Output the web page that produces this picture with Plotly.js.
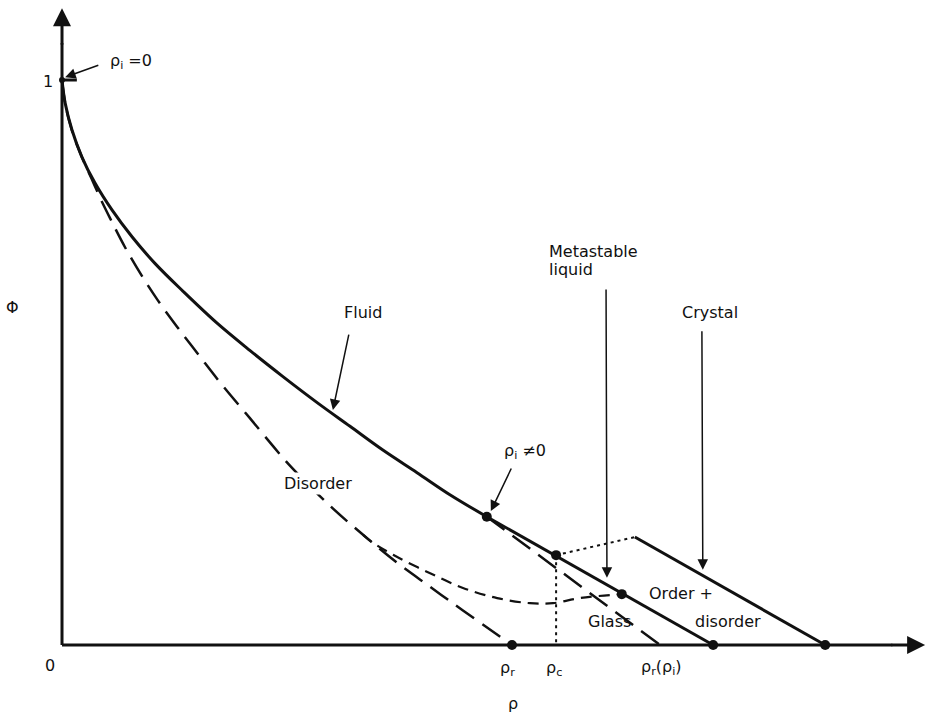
<!DOCTYPE html>
<html><head><meta charset="utf-8">
<script src="https://cdn.plot.ly/plotly-3.0.1.min.js"></script>
<style>html,body{margin:0;padding:0;background:#fff}#chart{width:926px;height:713px}</style>
</head><body><div id="chart"></div>
<script>
// Fluid branch (curved part, then linear continuation after rho_i != 0)
const fluidX = [0, 0.007, 0.022, 0.044, 0.073, 0.111, 0.156, 0.207, 0.269, 0.344, 0.418, 0.491, 0.567, 0.640, 0.713, 0.789, 0.862, 0.944];
const fluidY = [1.000, 0.959, 0.912, 0.864, 0.818, 0.770, 0.722, 0.675, 0.626, 0.570, 0.521, 0.475, 0.429, 0.387, 0.345, 0.305, 0.266, 0.227];
const fluidLineX = [0.944, 1.447];
const fluidLineY = [0.227, 0];
// Disorder (long dashed)
const disorderX = [0, 0.007, 0.022, 0.044, 0.067, 0.089, 0.107, 0.140, 0.180, 0.213, 0.256, 0.307, 0.358, 0.418, 0.469, 0.507, 0.596, 0.669, 0.744, 0.818, 0.891, 1.000];
const disorderY = [1.000, 0.959, 0.911, 0.864, 0.823, 0.784, 0.755, 0.704, 0.650, 0.610, 0.563, 0.510, 0.458, 0.401, 0.352, 0.317, 0.246, 0.195, 0.146, 0.103, 0.061, 0];
// Short dashed branch (order + disorder)
const mixedX = [0.669, 0.691, 0.744, 0.818, 0.891, 0.967, 1.040, 1.091, 1.151, 1.244];
const mixedY = [0.195, 0.181, 0.156, 0.127, 0.101, 0.083, 0.074, 0.074, 0.083, 0.090];
// Glass (long dashed line)
const glassX = [0.944, 1.329];
const glassY = [0.227, 0];
// Crystal (solid line)
const crystalX = [1.273, 1.696];
const crystalY = [0.191, 0];
// Dotted lines
const dottedTopX = [1.098, 1.273];
const dottedTopY = [0.159, 0.191];
const dottedVertX = [1.098, 1.098];
const dottedVertY = [0.159, 0];
// Marked points
const pointX = [0.944, 1.098, 1.244, 1.000, 1.447, 1.696];
const pointY = [0.227, 0.159, 0.090, 0, 0, 0];
// Axis extents
const xAxisEnd = 1.918;
const yAxisEnd = 1.127;

const ink = '#111';
const traces = [
  {x: fluidX, y: fluidY, mode: 'lines', line: {color: ink, width: 3, shape: 'spline', smoothing: 1}},
  {x: fluidLineX, y: fluidLineY, mode: 'lines', line: {color: ink, width: 3}},
  {x: disorderX, y: disorderY, mode: 'lines', line: {color: ink, width: 2.5, dash: '22px,10px', shape: 'spline', smoothing: 1}},
  {x: mixedX, y: mixedY, mode: 'lines', line: {color: ink, width: 2.2, dash: '11px,7px', shape: 'spline', smoothing: 1}},
  {x: glassX, y: glassY, mode: 'lines', line: {color: ink, width: 2.5, dash: '22px,10px'}},
  {x: crystalX, y: crystalY, mode: 'lines', line: {color: ink, width: 3}},
  {x: dottedTopX, y: dottedTopY, mode: 'lines', line: {color: ink, width: 2, dash: '3px,4px'}},
  {x: dottedVertX, y: dottedVertY, mode: 'lines', line: {color: ink, width: 2, dash: '3px,4px'}},
  {x: pointX, y: pointY, mode: 'markers', marker: {color: ink, size: 10}, cliponaxis: false},
  {x: [0], y: [1], mode: 'markers', marker: {color: ink, size: 6}}
];

const f = {family: 'DejaVu Sans', size: 16, color: ink};
function lab(text, x, y, xanchor, extra) {
  return Object.assign({text: text, x: x, y: y, xref: 'x', yref: 'y', showarrow: false,
    xanchor: xanchor || 'left', yanchor: 'middle', font: f}, extra || {});
}
function arr(x, y, ax, ay, w, s) {
  return {text: '', x: x, y: y, ax: ax, ay: ay, xref: 'x', yref: 'y', axref: 'x', ayref: 'y',
    showarrow: true, arrowhead: 2, arrowsize: s || 1.4, arrowwidth: w || 1.5, arrowcolor: ink};
}
const annotations = [
  lab('Metastable', 1.078, 0.696),
  lab('liquid', 1.078, 0.664),
  lab('Crystal', 1.373, 0.588),
  lab('Fluid', 0.622, 0.588),
  lab('Disorder', 0.489, 0.285, 'left', {bgcolor: 'white'}),
  lab('ρ<sub>i</sub> ≠0', 0.978, 0.342),
  lab('Order +', 1.300, 0.092),
  lab('disorder', 1.402, 0.041),
  lab('Glass', 1.164, 0.041),
  lab('ρ<sub>i</sub> =0', 0.102, 1.032),
  lab('0', -0.027, -0.037, 'center'),
  lab('1', -0.031, 0.998, 'center'),
  lab('Φ', -0.111, 0.598, 'center'),
  lab('ρ<sub>r</sub>', 0.989, -0.041, 'center'),
  lab('ρ<sub>c</sub>', 1.093, -0.041, 'center'),
  lab('ρ<sub>r</sub>(ρ<sub>i</sub>)', 1.333, -0.040, 'center'),
  lab('ρ', 1.002, -0.103, 'center'),
  arr(1.211, 0.119, 1.209, 0.632),
  arr(1.424, 0.133, 1.422, 0.558),
  arr(0.602, 0.416, 0.638, 0.552),
  arr(0.953, 0.237, 1.000, 0.315),
  arr(0.007, 1.005, 0.084, 1.027),
  arr(xAxisEnd, 0, 1.84, 0, 3, 1.2),
  arr(0, yAxisEnd, 0, 1.06, 3, 1.2)
];
const shapes = [
  {type: 'line', xref: 'x', yref: 'y', x0: 0, y0: 0, x1: 1.845, y1: 0, line: {color: ink, width: 3}},
  {type: 'line', xref: 'x', yref: 'y', x0: 0, y0: 0, x1: 0, y1: 1.065, line: {color: ink, width: 3}},
  {type: 'line', xref: 'x', yref: 'y', x0: -0.004, y0: 1, x1: 0.033, y1: 1, line: {color: ink, width: 3}}
];
const layout = {
  width: 926, height: 713, showlegend: false,
  margin: {l: 0, r: 0, t: 0, b: 0},
  paper_bgcolor: 'white', plot_bgcolor: 'white',
  xaxis: {range: [-0.1378, 1.92], visible: false, fixedrange: true},
  yaxis: {range: [-0.1204, 1.1416], visible: false, fixedrange: true},
  annotations: annotations, shapes: shapes
};
Plotly.newPlot('chart', traces, layout, {displayModeBar: false, staticPlot: true});
</script></body></html>
